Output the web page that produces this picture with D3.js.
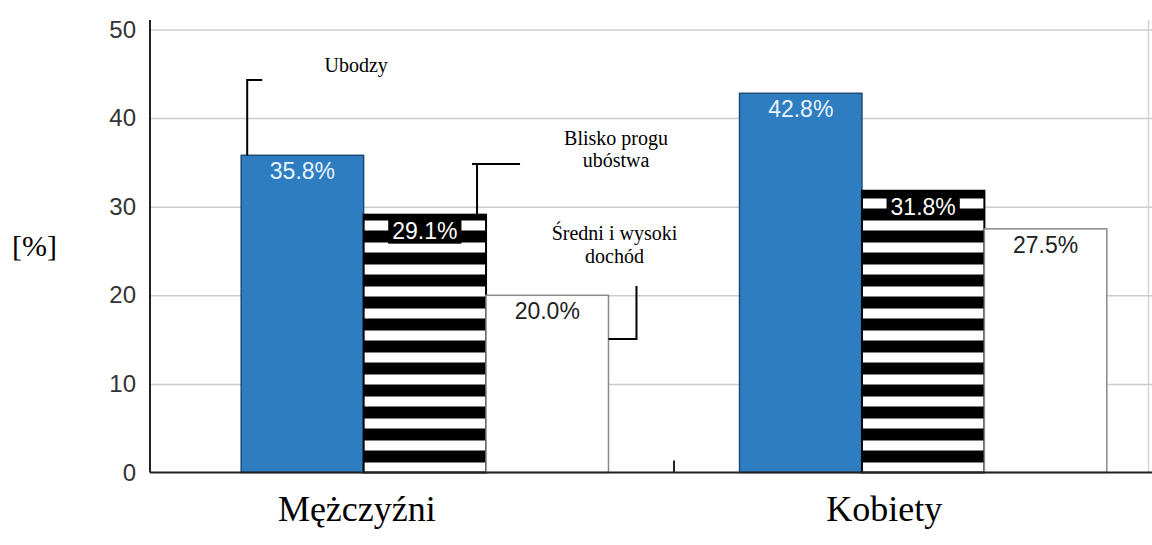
<!DOCTYPE html>
<html>
<head>
<meta charset="utf-8">
<script src="https://cdn.jsdelivr.net/npm/d3@7"></script>
<style>
  body { margin: 0; background: #fff; }
  svg { display: block; }
</style>
</head>
<body>
<svg id="chart" width="1152" height="545"></svg>
<script>
// ---- data ----
const groups = ["Mężczyźni", "Kobiety"];
const series = ["Ubodzy", "Blisko progu ubóstwa", "Średni i wysoki dochód"];
const ubodzy = [35.8, 42.8];
const bliskoProgu = [29.1, 31.8];
const sredniWysoki = [20.0, 27.5];
const yTicks = [0, 10, 20, 30, 40, 50];
const seriesLabelLines = [["Ubodzy"], ["Blisko progu", "ubóstwa"], ["Średni i wysoki", "dochód"]];
const yTitle = "[%]";

const seriesValues = [ubodzy, bliskoProgu, sredniWysoki];

// ---- layout ----
const W = 1152, H = 545;
const plot = { left: 150, right: 1152, top: 20, bottom: 472.5 };
const sansFont = "'Liberation Sans', Arial, sans-serif";
const serifFont = "'Liberation Serif', 'Times New Roman', serif";

const svg = d3.select("#chart").attr("width", W).attr("height", H);

const y = d3.scaleLinear().domain([0, 50]).range([plot.bottom, 29.5]);
const x0 = d3.scaleBand().domain(groups).range([150, 1198])
  .paddingInner(0.263).paddingOuter(0.183);
const x1 = d3.scaleBand().domain(series).range([0, x0.bandwidth()]);

// horizontal stripe fill for the middle series
const defs = svg.append("defs");
const pat = defs.append("pattern")
  .attr("id", "stripes")
  .attr("patternUnits", "userSpaceOnUse")
  .attr("x", 0).attr("y", y(0))
  .attr("width", 10).attr("height", 22);
pat.append("rect").attr("width", 10).attr("height", 22).attr("fill", "#000");
pat.append("rect").attr("y", 12).attr("width", 10).attr("height", 10).attr("fill", "#fff");

// ---- gridlines ----
svg.append("g")
  .attr("transform", `translate(${plot.left},0)`)
  .call(d3.axisLeft(y).tickValues(yTicks.filter(d => d > 0))
    .tickSize(-(plot.right - plot.left)).tickFormat(""))
  .call(g => g.select(".domain").remove())
  .call(g => g.selectAll("line").attr("stroke", "#cccccc").attr("stroke-width", 1.5));

// faint right border of the plot area
svg.append("line")
  .attr("x1", 1148.5).attr("x2", 1148.5)
  .attr("y1", plot.top).attr("y2", plot.bottom)
  .attr("stroke", "#d4d4d4").attr("stroke-width", 1.5);

// ---- y tick labels ----
svg.append("g")
  .attr("transform", `translate(${plot.left},0)`)
  .call(d3.axisLeft(y).tickValues(yTicks).tickSize(0).tickPadding(14))
  .call(g => g.select(".domain").remove())
  .call(g => g.selectAll("text")
    .attr("font-family", sansFont).attr("font-size", 24).attr("fill", "#333"));

// ---- bars ----
const fills = ["#2f7dc1", "url(#stripes)", "#fff"];
const strokes = ["#1d4a78", "#000", "#8a8a8a"];
const labelFill = ["#e8f3ff", "#fff", "#222"];

const bars = [];
groups.forEach((g, gi) => {
  series.forEach((s, si) => {
    bars.push({ g, gi, s, si, v: seriesValues[si][gi] });
  });
});

const barG = svg.append("g");
barG.selectAll("rect").data(bars).join("rect")
  .attr("x", d => x0(d.g) + x1(d.s))
  .attr("y", d => y(d.v))
  .attr("width", x1.bandwidth())
  .attr("height", d => y(0) - y(d.v))
  .attr("fill", d => fills[d.si])
  .attr("stroke", d => strokes[d.si])
  .attr("stroke-width", d => d.si === 1 ? 2 : 1.5);

// value labels
const lblG = svg.append("g");
bars.forEach(d => {
  const cx = x0(d.g) + x1(d.s) + x1.bandwidth() / 2;
  const t = lblG.append("text")
    .attr("x", cx).attr("y", y(d.v) + 24)
    .attr("text-anchor", "middle")
    .attr("font-family", sansFont).attr("font-size", 23)
    .attr("fill", labelFill[d.si])
    .text(d.v.toFixed(1) + "%");
  if (d.si === 1) {
    const bb = t.node().getBBox();
    lblG.insert("rect", () => t.node())
      .attr("x", bb.x - 4).attr("y", bb.y + 2)
      .attr("width", bb.width + 8).attr("height", bb.height - 2)
      .attr("fill", "#000");
  }
});

// ---- baseline and y axis line ----
svg.append("line")
  .attr("x1", plot.left).attr("x2", plot.right)
  .attr("y1", y(0)).attr("y2", y(0))
  .attr("stroke", "#222").attr("stroke-width", 2);
svg.append("line")
  .attr("x1", plot.left).attr("x2", plot.left)
  .attr("y1", plot.top).attr("y2", y(0))
  .attr("stroke", "#222").attr("stroke-width", 2);

// tick between the two groups
const midX = (x0(groups[0]) + x0.bandwidth() + x0(groups[1])) / 2;
svg.append("line")
  .attr("x1", midX).attr("x2", midX)
  .attr("y1", y(0)).attr("y2", y(0) - 12)
  .attr("stroke", "#222").attr("stroke-width", 2);

// ---- category labels ----
const groupNudge = { "Mężczyźni": -68, "Kobiety": -39 };
svg.append("g").selectAll("text").data(groups).join("text")
  .attr("x", g => x0(g) + x0.bandwidth() / 2 + groupNudge[g])
  .attr("y", 521)
  .attr("text-anchor", "middle")
  .attr("font-family", serifFont).attr("font-size", 36)
  .attr("fill", "#000")
  .text(g => g);

// ---- y title ----
svg.append("text")
  .attr("x", 12).attr("y", 256)
  .attr("font-family", serifFont).attr("font-size", 30)
  .attr("fill", "#000")
  .text(yTitle);

// ---- series annotations with leader lines (on the first group) ----
const g0 = groups[0];
const bx = si => x0(g0) + x1(series[si]);
const bw = x1.bandwidth();
const annG = svg.append("g");
const leader = p => annG.append("path").attr("d", p)
  .attr("fill", "none").attr("stroke", "#000").attr("stroke-width", 2);
const annText = (cx, baselines, lines) => {
  lines.forEach((ln, i) => annG.append("text")
    .attr("x", cx).attr("y", baselines[i])
    .attr("text-anchor", "middle")
    .attr("font-family", serifFont).attr("font-size", 20)
    .attr("fill", "#000").text(ln));
};

// Ubodzy
leader(`M${bx(0) + 6},${y(seriesValues[0][0])} V80 H${bx(0) + 21}`);
annText(bx(0) + 115, [72], seriesLabelLines[0]);

// Blisko progu ubóstwa
const r1 = bx(1) + bw;
leader(`M${r1 - 9},${y(seriesValues[1][0])} V164 M${r1 - 14},164 H${r1 + 34}`);
annText(r1 + 130, [145, 167], seriesLabelLines[1]);

// Średni i wysoki dochód
const r2 = bx(2) + bw;
leader(`M${r2},339 H${r2 + 28} V286`);
annText(r2 + 6, [240, 263], seriesLabelLines[2]);
</script>
</body>
</html>
